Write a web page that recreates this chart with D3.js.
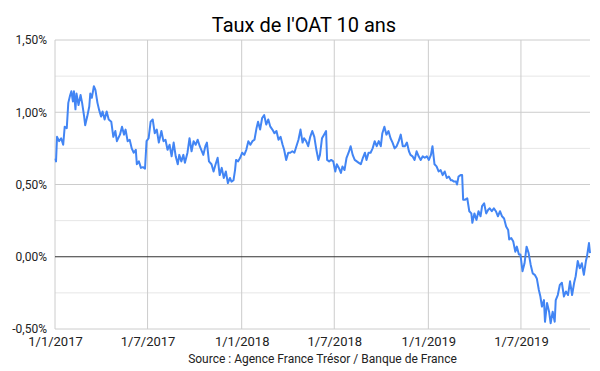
<!DOCTYPE html>
<html>
<head>
<meta charset="utf-8">
<script src="https://cdn.jsdelivr.net/npm/d3@7"></script>
<style>
	body { margin: 0; background: #fff; }
	svg { display: block; font-family: Roboto, "Noto Sans", sans-serif; }
</style>
</head>
<body>
<svg id="chart" width="600" height="371"></svg>
<script>

//****************************************************************************************************************************//
// Data

var dates = [
	"2017-01-02","2017-01-03","2017-01-05","2017-01-09","2017-01-13","2017-01-17","2017-01-20","2017-01-24","2017-01-27","2017-01-30",
	"2017-02-02","2017-02-05","2017-02-07","2017-02-10","2017-02-12","2017-02-16","2017-02-20","2017-02-23","2017-02-27","2017-03-01",
	"2017-03-05","2017-03-09","2017-03-11","2017-03-14","2017-03-18","2017-03-21","2017-03-25","2017-03-28","2017-04-01","2017-04-04",
	"2017-04-08","2017-04-12","2017-04-16","2017-04-21","2017-04-25","2017-04-29","2017-05-02","2017-05-08","2017-05-12","2017-05-16",
	"2017-05-19","2017-05-23","2017-05-27","2017-05-31","2017-06-04","2017-06-08","2017-06-10","2017-06-14","2017-06-18","2017-06-22",
	"2017-06-26","2017-06-29","2017-07-03","2017-07-07","2017-07-11","2017-07-15","2017-07-19","2017-07-23","2017-07-28","2017-08-01",
	"2017-08-05","2017-08-09","2017-08-13","2017-08-17","2017-08-21","2017-08-25","2017-08-29","2017-09-01","2017-09-05","2017-09-09",
	"2017-09-12","2017-09-17","2017-09-21","2017-09-25","2017-09-29","2017-10-03","2017-10-07","2017-10-11","2017-10-14","2017-10-18",
	"2017-10-22","2017-10-25","2017-10-29","2017-11-03","2017-11-07","2017-11-11","2017-11-15","2017-11-19","2017-11-23","2017-11-27",
	"2017-12-01","2017-12-05","2017-12-09","2017-12-12","2017-12-16","2017-12-19","2017-12-21","2017-12-25","2017-12-29","2018-01-02",
	"2018-01-06","2018-01-10","2018-01-14","2018-01-18","2018-01-22","2018-01-26","2018-01-30","2018-02-02","2018-02-06","2018-02-10",
	"2018-02-14","2018-02-18","2018-02-22","2018-02-26","2018-03-02","2018-03-06","2018-03-10","2018-03-14","2018-03-18","2018-03-22",
	"2018-03-25","2018-03-29","2018-04-02","2018-04-06","2018-04-10","2018-04-14","2018-04-18","2018-04-22","2018-04-26","2018-04-30",
	"2018-05-03","2018-05-07","2018-05-11","2018-05-15","2018-05-19","2018-05-23","2018-05-27","2018-05-31","2018-06-03","2018-06-07",
	"2018-06-11","2018-06-15","2018-06-17","2018-06-21","2018-06-25","2018-06-29","2018-07-03","2018-07-06","2018-07-10","2018-07-14",
	"2018-07-17","2018-07-21","2018-07-25","2018-07-29","2018-08-02","2018-08-06","2018-08-10","2018-08-14","2018-08-18","2018-08-22",
	"2018-08-26","2018-08-30","2018-09-02","2018-09-06","2018-09-10","2018-09-14","2018-09-18","2018-09-22","2018-09-26","2018-09-30",
	"2018-10-03","2018-10-07","2018-10-11","2018-10-15","2018-10-19","2018-10-23","2018-10-27","2018-10-31","2018-11-04","2018-11-08",
	"2018-11-12","2018-11-16","2018-11-20","2018-11-24","2018-11-27","2018-12-01","2018-12-05","2018-12-09","2018-12-13","2018-12-17",
	"2018-12-21","2018-12-25","2018-12-29","2019-01-02","2019-01-06","2019-01-09","2019-01-13","2019-01-17","2019-01-21","2019-01-25",
	"2019-01-29","2019-02-02","2019-02-06","2019-02-10","2019-02-14","2019-02-16","2019-02-20","2019-02-24","2019-02-26","2019-03-01",
	"2019-03-05","2019-03-08","2019-03-10","2019-03-14","2019-03-18","2019-03-22","2019-03-26","2019-03-28","2019-04-01","2019-04-05",
	"2019-04-09","2019-04-13","2019-04-16","2019-04-20","2019-04-24","2019-04-28","2019-05-01","2019-05-05","2019-05-09","2019-05-13",
	"2019-05-17","2019-05-21","2019-05-25","2019-05-29","2019-06-02","2019-06-06","2019-06-08","2019-06-12","2019-06-16","2019-06-20",
	"2019-06-23","2019-06-27","2019-06-30","2019-07-04","2019-07-08","2019-07-12","2019-07-16","2019-07-20","2019-07-24","2019-07-28",
	"2019-08-01","2019-08-05","2019-08-08","2019-08-11","2019-08-15","2019-08-17","2019-08-21","2019-08-25","2019-08-28","2019-09-01",
	"2019-09-05","2019-09-07","2019-09-11","2019-09-15","2019-09-19","2019-09-23","2019-09-27","2019-10-01","2019-10-05","2019-10-09",
	"2019-10-13","2019-10-16","2019-10-20","2019-10-24","2019-10-28","2019-11-01","2019-11-05","2019-11-07","2019-11-11","2019-11-13"
];

var taux = [
	0.68, 0.66, 0.83, 0.80, 0.82, 0.775, 0.90, 0.89, 1.065, 1.11,
	1.145, 1.075, 1.145, 1.02, 1.13, 1.05, 1.12, 1.065, 0.97, 0.91,
	0.97, 1.04, 1.13, 1.10, 1.18, 1.155, 1.065, 1.02, 0.97, 1.005,
	0.95, 1.005, 0.95, 0.935, 0.83, 0.87, 0.80, 0.845, 0.90, 0.845,
	0.88, 0.80, 0.81, 0.75, 0.72, 0.74, 0.64, 0.66, 0.615, 0.62,
	0.61, 0.80, 0.82, 0.935, 0.95, 0.855, 0.88, 0.79, 0.87, 0.80,
	0.81, 0.74, 0.775, 0.695, 0.79, 0.695, 0.64, 0.705, 0.66, 0.705,
	0.65, 0.72, 0.82, 0.73, 0.80, 0.775, 0.81, 0.765, 0.74, 0.705,
	0.765, 0.79, 0.66, 0.64, 0.59, 0.64, 0.685, 0.565, 0.615, 0.545,
	0.59, 0.51, 0.545, 0.52, 0.53, 0.60, 0.67, 0.66, 0.685, 0.72,
	0.705, 0.74, 0.80, 0.775, 0.80, 0.81, 0.89, 0.935, 0.88, 0.96,
	0.98, 0.915, 0.95, 0.90, 0.88, 0.855, 0.87, 0.81, 0.83, 0.775,
	0.74, 0.67, 0.72, 0.72, 0.73, 0.72, 0.765, 0.81, 0.88, 0.79,
	0.82, 0.80, 0.765, 0.83, 0.87, 0.83, 0.74, 0.67, 0.705, 0.82,
	0.845, 0.87, 0.67, 0.66, 0.67, 0.66, 0.59, 0.64, 0.615, 0.58,
	0.625, 0.60, 0.685, 0.72, 0.765, 0.705, 0.67, 0.66, 0.65, 0.64,
	0.685, 0.72, 0.67, 0.72, 0.72, 0.75, 0.80, 0.765, 0.80, 0.765,
	0.855, 0.90, 0.845, 0.87, 0.82, 0.79, 0.75, 0.765, 0.80, 0.845,
	0.765, 0.765, 0.79, 0.73, 0.705, 0.695, 0.67, 0.73, 0.695, 0.67,
	0.695, 0.685, 0.695, 0.67, 0.705, 0.765, 0.64, 0.625, 0.59, 0.60,
	0.565, 0.59, 0.545, 0.555, 0.53, 0.53, 0.52, 0.52, 0.50, 0.555,
	0.565, 0.565, 0.395, 0.395, 0.405, 0.315, 0.30, 0.235, 0.30, 0.255,
	0.315, 0.28, 0.35, 0.37, 0.30, 0.325, 0.335, 0.315, 0.335, 0.315,
	0.28, 0.315, 0.28, 0.265, 0.21, 0.185, 0.12, 0.13, 0.105, 0.035,
	0.07, 0.015, 0.015, -0.10, -0.045, 0.07, 0.025, -0.055, -0.115, -0.125,
	-0.15, -0.23, -0.275, -0.345, -0.30, -0.45, -0.32, -0.38, -0.46, -0.38,
	-0.45, -0.30, -0.265, -0.195, -0.18, -0.275, -0.24, -0.265, -0.17, -0.265,
	-0.18, -0.135, -0.03, -0.08, -0.045, -0.125, -0.03, 0.00, 0.095, 0.025
];

var xTicks = ["2017-01-01","2017-07-01","2018-01-01","2018-07-01","2019-01-01","2019-07-01"];
var yMajor = [-0.5, 0, 0.5, 1.0, 1.5];
var yMinor = [-0.25, 0.25, 0.75, 1.25];
var xDomain = ["2017-01-01","2019-11-13"];

//****************************************************************************************************************************//
// Setup

var width = 600, height = 371;
var plot = { left : 55, right : 590, top : 40, bottom : 329 };
var parse = d3.timeParse("%Y-%m-%d");
var frLabel = function(v){ return v.toFixed(2).replace(".", ",") + "%"; };

var data = dates.map(function(d, i){ return { date : parse(d), value : taux[i] }; });

var x = d3.scaleTime()
			.domain(xDomain.map(parse))
			.range([plot.left, plot.right]);

var y = d3.scaleLinear()
			.domain([-0.5, 1.5])
			.range([plot.bottom, plot.top]);

var canvas = d3.select("#chart");

//****************************************************************************************************************************//
// Grid

canvas.append("g")
		.selectAll("line")
		.data(yMinor)
		.join("line")
			.attr("x1", plot.left)
			.attr("x2", plot.right)
			.attr("y1", function(d){ return y(d); })
			.attr("y2", function(d){ return y(d); })
			.attr("stroke", "#e6e6e6")
			.attr("stroke-width", 1);

canvas.append("g")
		.selectAll("line")
		.data(yMajor.filter(function(d){ return d !== 0; }))
		.join("line")
			.attr("x1", plot.left)
			.attr("x2", plot.right)
			.attr("y1", function(d){ return y(d); })
			.attr("y2", function(d){ return y(d); })
			.attr("stroke", "#cccccc")
			.attr("stroke-width", 1);

canvas.append("g")
		.selectAll("line")
		.data(xTicks.map(parse))
		.join("line")
			.attr("x1", function(d){ return x(d); })
			.attr("x2", function(d){ return x(d); })
			.attr("y1", plot.top)
			.attr("y2", plot.bottom)
			.attr("stroke", "#cccccc")
			.attr("stroke-width", 1);

canvas.append("line")
		.attr("x1", plot.left)
		.attr("x2", plot.right)
		.attr("y1", y(0))
		.attr("y2", y(0))
		.attr("stroke", "#333333")
		.attr("stroke-width", 1);

//****************************************************************************************************************************//
// Axes labels

var yAxis = canvas.append("g")
				.attr("transform", "translate(" + (plot.left - 8) + ",0)")
				.call(d3.axisLeft(y).tickValues(yMajor).tickSize(0).tickFormat(frLabel));
yAxis.select(".domain").remove();
yAxis.selectAll("text")
		.attr("x", 0)
		.style("font-size", "12px")
		.style("font-family", "Roboto")
		.attr("fill", "#222222");

var xAxis = canvas.append("g")
				.attr("transform", "translate(0," + plot.bottom + ")")
				.call(d3.axisBottom(x).tickValues(xTicks.map(parse)).tickSize(0).tickFormat(d3.timeFormat("%-d/%-m/%Y")));
xAxis.select(".domain").remove();
xAxis.selectAll("text")
		.attr("y", 8)
		.style("font-size", "13px")
		.style("font-family", "Roboto")
		.attr("fill", "#222222");

//****************************************************************************************************************************//
// Line

canvas.append("path")
		.datum(data)
		.attr("fill", "none")
		.attr("stroke", "#4285f4")
		.attr("stroke-width", 2)
		.attr("stroke-linejoin", "round")
		.attr("d", d3.line()
					.x(function(d){ return x(d.date); })
					.y(function(d){ return y(d.value); }));

//****************************************************************************************************************************//
// Titles

canvas.append("text")
		.attr("x", 304)
		.attr("y", 32)
		.attr("text-anchor", "middle")
		.style("font-size", "20px")
		.style("font-family", "Roboto")
		.attr("fill", "#000000")
		.text("Taux de l'OAT 10 ans");

canvas.append("text")
		.attr("x", (plot.left + plot.right) / 2)
		.attr("y", 363)
		.attr("text-anchor", "middle")
		.style("font-size", "12px")
		.style("font-family", "Roboto")
		.attr("fill", "#222222")
		.text("Source : Agence France Trésor / Banque de France");

</script>
</body>
</html>
